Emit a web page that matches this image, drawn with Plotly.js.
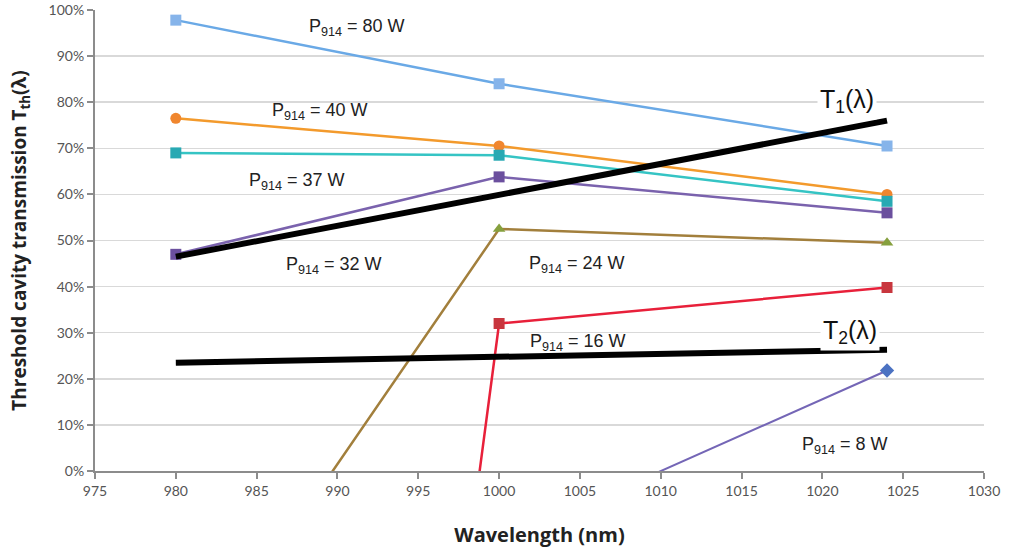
<!DOCTYPE html>
<html><head><meta charset="utf-8">
<script src="https://cdn.plot.ly/plotly-3.0.1.min.js"></script>
<style>body{margin:0;background:#fff}#c{width:1028px;height:550px}</style>
</head><body><div id="c"></div>
<script>
// Wavelengths (nm)
const wl = [980, 1000, 1024];
// Threshold transmission (%) for each pump power
const p80 = [97.8, 84.0, 70.5];
const p40 = [76.5, 70.5, 60.0];
const p37 = [69.0, 68.5, 58.5];
const p32 = [47.0, 63.8, 56.0];
const p24 = [-49.5, 52.5, 49.5];
const p16 = [-500, 32.0, 39.8];
const p8  = [-47.0, -15.6, 21.8];
const t1Wl = [980, 1024];
const t1 = [46.5, 76.0];
const t2 = [23.5, 26.3];
const yTicks = [0,10,20,30,40,50,60,70,80,90,100];
const yTickLabels = ['0%','10%','20%','30%','40%','50%','60%','70%','80%','90%','100%'];
const xTicks = [975,980,985,990,995,1000,1005,1010,1015,1020,1025,1030];

function s(y, lineColor, mColor, sym, w){
  return {x: wl, y: y, type:'scatter', mode:'lines+markers',
    line:{color: lineColor, width: w||2.5},
    marker:{color: mColor, symbol: sym, size: 11}};
}
const traces = [
  s(p80, '#6aa9e6', '#86b4ea', 'square'),
  s(p40, '#f39a2c', '#f0862e', 'circle'),
  s(p37, '#35c4c4', '#28a9b3', 'square'),
  s(p32, '#7a62ad', '#6b4f9e', 'square'),
  s(p24, '#a27f3c', '#86a03e', 'triangle-up'),
  s(p16, '#e8203a', '#c8363e', 'square'),
  s(p8,  '#7466b6', '#4b72c2', 'diamond', 2),
  {x: t1Wl, y: t1, type:'scatter', mode:'lines', line:{color:'#000', width:6}},
  {x: t1Wl, y: t2, type:'scatter', mode:'lines', line:{color:'#000', width:6}}
];
const lf = {family:'Liberation Sans, Arial, sans-serif', size:18, color:'#222'};
function lab(x, y, t, extra){
  return Object.assign({x:x, y:y, xref:'x', yref:'y', text:t, showarrow:false, font:lf}, extra||{});
}
const tf = {family:'Liberation Sans, Arial, sans-serif', size:25, color:'#111'};
const annotations = [
  lab(991.2, 96.3, 'P<sub>914</sub> = 80 W'),
  lab(988.9, 77.9, 'P<sub>914</sub> = 40 W'),
  lab(987.5, 62.7, 'P<sub>914</sub> = 37 W'),
  lab(989.8, 44.5, 'P<sub>914</sub> = 32 W'),
  lab(1004.8, 44.7, 'P<sub>914</sub> = 24 W'),
  lab(1004.9, 27.8, 'P<sub>914</sub> = 16 W'),
  lab(1021.4, 5.6, 'P<sub>914</sub> = 8 W'),
  lab(1021.5, 80.2, 'T<sub>1</sub>(λ)', {font:tf, bgcolor:'#fff', borderpad:2}),
  lab(1021.7, 30.2, 'T<sub>2</sub>(λ)', {font:tf, bgcolor:'#fff', borderpad:2})
];
const layout = {
  width:1028, height:550,
  margin:{l:95, r:44, t:10, b:79},
  paper_bgcolor:'#fff', plot_bgcolor:'#fff',
  showlegend:false,
  font:{family:'Lato, Open Sans, sans-serif', color:'#555'},
  xaxis:{range:[975,1030], tickvals:xTicks, showgrid:false, zeroline:false,
    showline:true, linecolor:'#8c8c8c', linewidth:2, ticks:'outside', tickcolor:'#8c8c8c', ticklen:6, tickwidth:2,
    tickfont:{size:14, color:'#555'},
    title:{text:'Wavelength (nm)', font:{size:20, color:'#222', family:'Open Sans, sans-serif', weight:'bold'}, standoff:30}},
  yaxis:{range:[0,100], tickvals:yTicks, ticktext:yTickLabels, showgrid:true, gridcolor:'#d9d9d9', gridwidth:1.5, zeroline:false,
    showline:true, linecolor:'#8c8c8c', linewidth:2, ticks:'outside', tickcolor:'#8c8c8c', ticklen:6, tickwidth:2,
    tickfont:{size:14, color:'#555'},
    title:{text:'Threshold cavity transmission T<sub>th</sub>(λ)', font:{size:19, color:'#222', family:'Open Sans, sans-serif', weight:'bold'}, standoff:17}},
  annotations: annotations
};
Plotly.newPlot('c', traces, layout, {displayModeBar:false, staticPlot:true});
</script></body></html>
